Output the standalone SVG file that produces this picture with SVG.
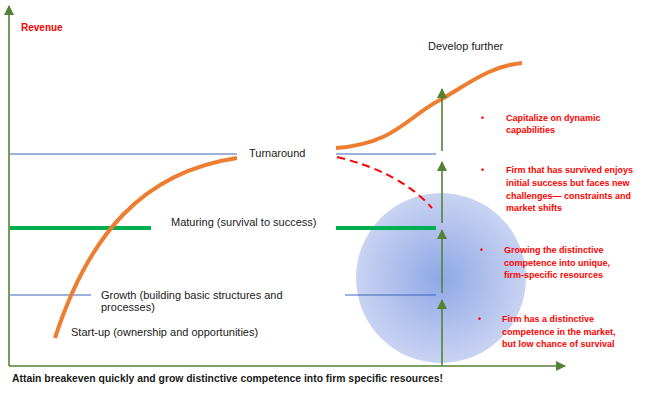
<svg xmlns="http://www.w3.org/2000/svg" width="651" height="404" viewBox="0 0 651 404">
<defs>
<marker id="ah" markerWidth="10" markerHeight="10" refX="9" refY="5" orient="auto" markerUnits="userSpaceOnUse"><path d="M0,0 L10,5 L0,10 Z" fill="#548235"/></marker>
<radialGradient id="bg" cx="0.5" cy="0.5" r="0.5"><stop offset="0" stop-color="#8EA7E6"/><stop offset="1" stop-color="#C9D3F2"/></radialGradient>
<style>
.lbl{font-family:"Liberation Sans",Arial,sans-serif;font-size:11px;fill:#1a1a1a}
.red{font-family:"Liberation Sans",Arial,sans-serif;font-size:9px;font-weight:bold;fill:#FF0000}
.ax{stroke:#548235;stroke-width:1.6;fill:none}
.arr{stroke:#548235;stroke-width:1.6;fill:none;marker-end:url(#ah)}
.blue{stroke:#3A66B8;stroke-width:1;fill:none}
.grn{stroke:#00B050;stroke-width:4;fill:none}
.org{stroke:#ED7D31;stroke-width:4;fill:none}
</style>
</defs>
<circle id="bubble" cx="441" cy="278" r="85" fill="url(#bg)"/>
<g id="connectors">
<path class="ax" d="M9,366 L9,6" marker-end="url(#ah)"/>
<path class="ax" d="M9,366 L565,366" marker-end="url(#ah)"/>
<line class="blue" x1="10" y1="154" x2="237" y2="154"/>
<line class="grn" x1="10" y1="228" x2="151" y2="228"/>
<line class="blue" x1="10" y1="295" x2="91" y2="295"/>
<path class="org" d="M55,338 C88,236 142,172 237,158"/>
<line class="blue" x1="336" y1="154" x2="436" y2="154"/>
<line class="grn" x1="336" y1="228" x2="436" y2="228"/>
<line class="blue" x1="345" y1="295" x2="436" y2="295"/>
<path class="org" d="M336,148 C395,144 408,116 440,100 C468,84 490,66 522,63"/>
<path d="M337,157 Q400,172 432,208" fill="none" stroke="#FF0000" stroke-width="2" stroke-dasharray="8,5"/>
<path class="arr" d="M442,151 L442,89"/>
<path class="arr" d="M442,223 L442,162"/>
<path class="arr" d="M442,293 L442,230"/>
<path class="arr" d="M442,366 L442,300"/>
</g>
<g id="revenue"><text x="21" y="31" style="font-family:'Liberation Sans',Arial,sans-serif;font-size:10px;font-weight:bold;fill:#FF0000">Revenue</text></g>
<g id="turnaround"><text class="lbl" x="249" y="157">Turnaround</text></g>
<g id="maturing"><text class="lbl" x="171" y="226">Maturing (survival to success)</text></g>
<g id="growth"><text class="lbl" x="101" y="299">Growth (building basic structures and</text><text class="lbl" x="101" y="311">processes)</text></g>
<g id="startup"><text class="lbl" x="71" y="336">Start-up (ownership and opportunities)</text></g>
<g id="develop"><text class="lbl" x="428" y="50">Develop further</text></g>
<g id="b1"><text class="red" x="481" y="121">•</text><text class="red" x="506" y="121">Capitalize on dynamic</text><text class="red" x="506" y="133">capabilities</text></g>
<g id="b2"><text class="red" x="481" y="173">•</text><text class="red" x="506" y="173">Firm that has survived enjoys</text><text class="red" x="506" y="186">initial success but faces new</text><text class="red" x="506" y="199">challenges— constraints and</text><text class="red" x="506" y="211">market shifts</text></g>
<g id="b3"><text class="red" x="480" y="253">•</text><text class="red" x="504" y="253">Growing the distinctive</text><text class="red" x="504" y="266">competence into unique,</text><text class="red" x="504" y="278">firm-specific resources</text></g>
<g id="b4"><text class="red" x="478" y="322">•</text><text class="red" x="502" y="322">Firm has a distinctive</text><text class="red" x="502" y="335">competence in the market,</text><text class="red" x="502" y="347">but low chance of survival</text></g>
<g id="footer"><text x="12" y="382" textLength="431" lengthAdjust="spacingAndGlyphs" style="font-family:'Liberation Sans',Arial,sans-serif;font-size:10px;font-weight:bold;fill:#1a1a1a">Attain breakeven quickly and grow distinctive competence into firm specific resources!</text></g>
</svg>
